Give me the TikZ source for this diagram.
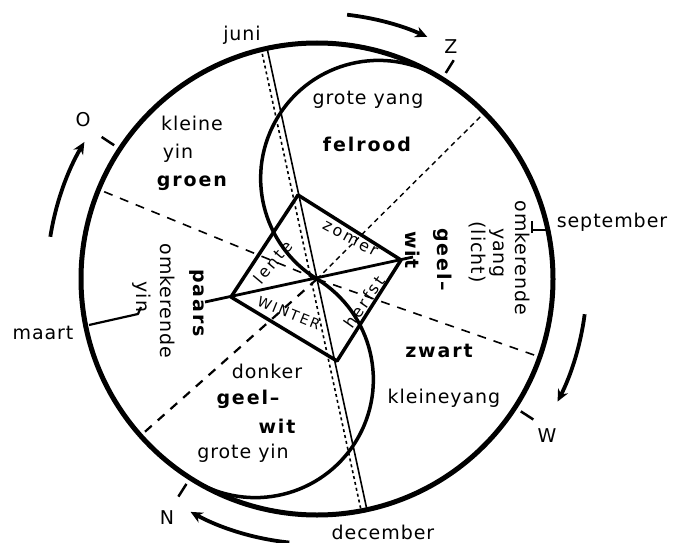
\documentclass[tikz,border=0pt]{standalone}
\usepackage{fontspec}
\setmainfont{DejaVu Sans}
\newfontfamily\lblfont[LetterSpace=5]{DejaVu Sans}
\newfontfamily\sqfont[LetterSpace=15]{DejaVu Sans}
\newfontfamily\bldfont[LetterSpace=10]{DejaVu Sans Bold}
\usetikzlibrary{arrows.meta}
\begin{document}
\begin{tikzpicture}[x=1pt,y=-1pt,
  lbl/.style={font=\lblfont\fontsize{19}{22}\selectfont, inner sep=0pt},
  blbl/.style={font=\bldfont\fontsize{19}{22}\selectfont, inner sep=0pt},
  sqlbl/.style={font=\sqfont\fontsize{16}{18}\selectfont, inner sep=0pt},
  bigcirc/.style={line width=5pt},
  sline/.style={line width=3.5pt},
  dsh/.style={line width=1.6pt, dash pattern=on 9pt off 8pt},
  fdsh/.style={line width=1.4pt, dash pattern=on 5pt off 4pt},
  flow/.style={line width=3.8pt, -{Stealth[length=12pt,width=11pt]}},
  tickmark/.style={line width=2.5pt},
  ptr/.style={line width=2.2pt}]
\useasboundingbox (0,0) rectangle (678,543);
\coordinate (C) at (317,279);

% big circle
\draw[bigcirc] (C) circle[radius=236pt];

% S-curve
\draw[sline] ([shift={(C)}]58.5:236pt) arc[start angle=58.5, end angle=238.5, radius=118pt]
  arc[start angle=58.5, end angle=-121.5, radius=118pt];

% dashed sector lines
\draw[dsh] (C) -- ([shift={(C)}]157.7:236pt);
\draw[fdsh] (C) -- ([shift={(C)}]44.8:236pt);
\draw[dsh] (C) -- ([shift={(C)}]-19.3:236pt);
\draw[dsh, line width=2.2pt] (C) -- ([shift={(C)}]221.6:236pt);

% juni - december double line
\coordinate (jA) at (267,48); \coordinate (dA) at (367,510);
\coordinate (jB) at (261,48); \coordinate (dB) at (361,510);
\draw[line width=1.6pt] (jA) -- (dA);
\draw[line width=1.6pt, dash pattern=on 3pt off 3pt] (jB) -- (dB);

% square
\coordinate (sqT) at (298,195); \coordinate (sqR) at (401,260);
\coordinate (sqB) at (337,361); \coordinate (sqL) at (231,297);
\draw[sline, line join=round] (sqT) -- (sqR) -- (sqB) -- (sqL) -- cycle;
\coordinate (dL) at (205,302); \coordinate (dR) at (413,257);
\draw[line width=2.8pt] (dL) -- (dR);

% pointers maart / september
\coordinate (mA) at (89,325); \coordinate (mB) at (138,314); \coordinate (mC) at (141,307);
\draw[ptr, line join=round] (mA) -- (mB) -- (mC);
\coordinate (sA) at (549,230); \coordinate (sB) at (532,230);
\coordinate (sT1) at (532,221); \coordinate (sT2) at (532,233);
\draw[ptr] (sA) -- (sB); \draw[line width=1.8pt] (sT1) -- (sT2);

% compass ticks
\foreach \a in {146.6,58,-33,-122.5}
  \draw[tickmark] ([shift={(C)}]\a:243pt) -- ([shift={(C)}]\a:258pt);

% flow arrows
\draw[flow] ([shift={(C)}]83.5:266pt) arc[start angle=83.5, end angle=65.5, radius=266pt];
\draw[flow] ([shift={(C)}]171:270pt) arc[start angle=171, end angle=149.5, radius=270pt];
\draw[flow] ([shift={(C)}]-7.5:270pt) arc[start angle=-7.5, end angle=-27, radius=270pt];
\draw[flow] ([shift={(C)}]-96:265pt) arc[start angle=-96, end angle=-118.5, radius=265pt];

% outer labels
\node[lbl] (juni) at (242,35) {juni};
\node[lbl] (Z) at (451,47) {Z};
\node[lbl] (O) at (83,120) {O};
\node[lbl] (sept) at (612,222) {september};
\node[lbl] (maart) at (43,333) {maart};
\node[lbl] (W) at (547,436) {W};
\node[lbl] (N) at (167,518) {N};
\node[lbl] (dec) at (383,532) {december};

% inner labels
\node[lbl] (kleine) at (192,123) {kleine};
\node[lbl] (yin1) at (178,153) {yin};
\node[blbl] (groen) at (192,183) {groen};
\node[lbl] (groteyang) at (368,100) {grote yang};
\node[blbl] (felrood) at (367,144) {felrood};

\node[lbl, rotate=-90] (omkR) at (523,258) {omkerende};
\node[lbl, rotate=-90] (yangR) at (497,253) {yang};
\node[lbl, rotate=-90] (licht) at (477,252) {(licht)};
\node[blbl, rotate=-90] (geelR) at (443,260) {geel–};
\node[blbl, rotate=-90] (witR) at (413,250) {wit};

\node[blbl, rotate=-90] (paars) at (197,303) {paars};
\node[lbl, rotate=-90] (omkL) at (168,301) {omkerende};
\node[lbl, rotate=-90] (yinL) at (142,297) {yin};

\node[lbl] (donker) at (267,371) {donker};
\node[blbl] (geelL) at (248,399) {geel–};
\node[blbl] (witL) at (277,426) {wit};
\node[lbl] (groteyin) at (243,453) {grote yin};

\node[blbl] (zwart) at (439,351) {zwart};
\node[lbl] (kleineyang) at (444,398) {kleineyang};

% square labels
\node[sqlbl, rotate=-28] (zomer) at (350,239) {zomer};
\node[sqlbl, rotate=55] (herfst) at (364,302) {herfst};
\node[sqlbl, rotate=-22, font=\sqfont\fontsize{14}{16}\selectfont] (winter) at (289,313) {WINTER};
\node[sqlbl, rotate=50] (lente) at (273,262) {lente};
\end{tikzpicture}
\end{document}
